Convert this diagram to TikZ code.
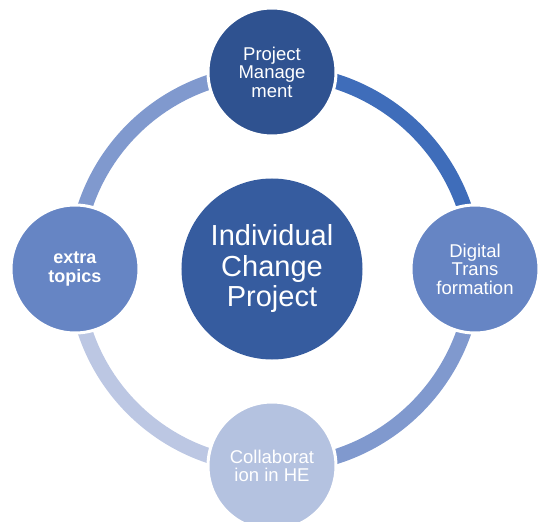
\documentclass[tikz,border=0pt]{standalone}
\usepackage{fontspec}
\setmainfont{Liberation Sans}
\usetikzlibrary{positioning, backgrounds}
\definecolor{coreblue}{HTML}{365C9F}
\definecolor{pmblue}{HTML}{2F5290}
\definecolor{midblue}{HTML}{6685C4}
\definecolor{paleblue}{HTML}{B4C2E0}
\definecolor{arcdark}{HTML}{3F6DBA}
\definecolor{arcmid}{HTML}{8099CE}
\definecolor{arcpale}{HTML}{BCC7E3}

\begin{document}
\begin{tikzpicture}[x=1pt, y=1pt, node distance=197pt,
    main/.style = {circle, draw=white, line width=3pt, minimum size=128pt, inner sep=0pt,
        align=center, text=white, font=\fontsize{18.5}{18.5}\selectfont},
    ring/.style = {line width=15pt}]
    \useasboundingbox (-272,-253) rectangle (269,269);

    \node[circle, fill=coreblue, minimum size=181pt, inner sep=0pt, align=center, text=white,
        font=\fontsize{29}{30.5}\selectfont] (icp) at (0,0) {Individual\\Change\\Project};
    \node[main, fill=pmblue] (pm) [above of=icp] {Project\\Manage\\ment};
    \node[main, fill=midblue] (dt) [right of=icp, node distance=203pt] {Digital\\Trans\\formation};
    \node[main, fill=paleblue] (he) [below of=icp] {Collaborat\\ion in HE};
    \node[main, fill=midblue, font=\fontsize{18}{18.5}\selectfont\bfseries] (xt) [left of=icp, node distance=197pt] {extra\\topics};

    \begin{pgfonlayer}{background}
        \draw[ring, arcdark] (pm.center) to [bend left=45] (dt.center);
        \draw[ring, arcmid] (dt.center) to [bend left=45] (he.center);
        \draw[ring, arcpale] (he.center) to [bend left=45] (xt.center);
        \draw[ring, arcmid] (xt.center) to [bend left=45] (pm.center);
    \end{pgfonlayer}
\end{tikzpicture}
\end{document}
